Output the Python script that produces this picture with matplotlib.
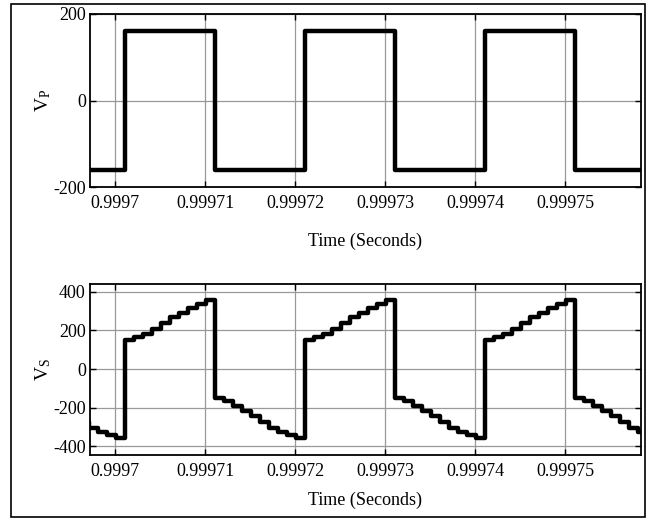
import matplotlib.pyplot as plt
from matplotlib.patches import Rectangle

plt.rcParams["font.family"] = "Liberation Serif"
plt.rcParams["mathtext.fontset"] = "custom"
plt.rcParams["mathtext.rm"] = "Liberation Serif"
plt.rcParams["axes.unicode_minus"] = False

# time axis
x_limits = [0.9996972, 0.9997584]
x_ticks = [0.9997, 0.99971, 0.99972, 0.99973, 0.99974, 0.99975]
x_tick_labels = ["0.9997", "0.99971", "0.99972", "0.99973", "0.99974", "0.99975"]

# primary voltage: switching instants and levels
vp_switch = [0.9997011, 0.9997111, 0.9997211, 0.9997311, 0.9997411, 0.9997511]
vp_high = 160
vp_low = -160

# secondary voltage: staircase levels after a rising / falling edge
vs_rise_levels = [150, 165, 183, 207, 237, 267, 292, 316, 338, 355]
vs_fall_levels = [-150, -168, -190, -215, -245, -275, -305, -328, -343, -358]
vs_step = 1.0e-6

vp_t = [x_limits[0]]
vp_v = [vp_low]
for i, ts in enumerate(vp_switch):
    vp_t.append(ts)
    vp_v.append(vp_high if i % 2 == 0 else vp_low)
vp_t.append(x_limits[1])
vp_v.append(vp_v[-1])

vs_t = []
vs_v = []
edges = [vp_switch[0] - 1e-5] + vp_switch
for i, ts in enumerate(edges):
    levels = vs_fall_levels if i % 2 == 0 else vs_rise_levels
    for k, lv in enumerate(levels):
        vs_t.append(ts + k * vs_step)
        vs_v.append(lv)

fig = plt.figure(figsize=(6.47, 5.20), dpi=100)
fig.patches.append(Rectangle((11 / 647, 3 / 520), 634 / 647, 513 / 520,
                             transform=fig.transFigure, fill=False,
                             edgecolor="black", linewidth=1.2))

ax1 = fig.add_axes([90 / 647, 1 - 187 / 520, 551 / 647, 173 / 520])
ax2 = fig.add_axes([90 / 647, 1 - 455 / 520, 551 / 647, 171 / 520])

ax1.step(vp_t, vp_v, where="post", color="black", linewidth=3.2)
ax1.set_ylim(-200, 200)
ax1.set_yticks([-200, 0, 200])
ax1.set_yticklabels(["-200", "0", "200"])
ax1.set_ylabel("$\\mathrm{V_P}$", fontsize=14)

ax2.step(vs_t, vs_v, where="post", color="black", linewidth=3.2)
ax2.set_ylim(-445, 440)
ax2.set_yticks([-400, -200, 0, 200, 400])
ax2.set_yticklabels(["-400", "-200", "0", "200", "400"])
ax2.set_ylabel("$\\mathrm{V_S}$", fontsize=14)

for ax in (ax1, ax2):
    ax.set_xlim(x_limits)
    ax.set_xticks(x_ticks)
    ax.set_xticklabels(x_tick_labels)
    ax.set_xlabel("Time (Seconds)", fontsize=13)
    ax.yaxis.set_label_coords(-0.067, 0.5)
    ax.grid(True, color="#999999", linewidth=0.9)
    ax.tick_params(direction="in", top=True, right=True, labelsize=13,
                   length=4, width=1)
    ax.tick_params(axis="x", pad=6)
    ax.tick_params(axis="y", pad=3)
    for s in ax.spines.values():
        s.set_linewidth(1.3)

ax1.xaxis.labelpad = 15
ax2.xaxis.labelpad = 8

fig.savefig("out.png", dpi=100)
